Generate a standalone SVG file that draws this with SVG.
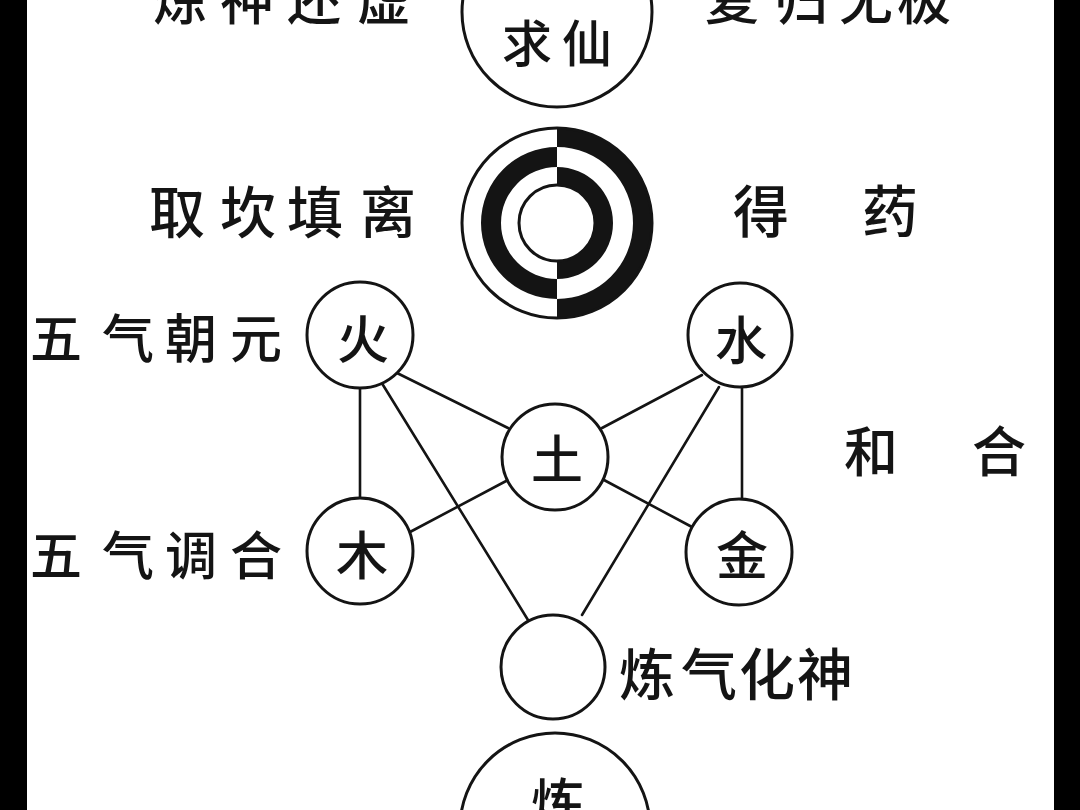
<svg xmlns="http://www.w3.org/2000/svg" width="1080" height="810" viewBox="0 0 1080 810">
<style>
  .t { font-family: "Noto Sans CJK SC", "Noto Sans CJK TC", sans-serif; font-weight: 500; fill: #141414; dominant-baseline: central; }
  .c { fill: #ffffff; stroke: #141414; stroke-width: 3; }
  .ln { stroke: #141414; stroke-width: 2.6; fill: none; stroke-linecap: round; }
  .blk { fill: #141414; }
</style>
<rect x="0" y="0" width="1080" height="810" fill="#ffffff"/>
<rect x="0" y="0" width="27" height="810" fill="#000000"/>
<rect x="1054" y="0" width="26" height="810" fill="#000000"/>

<g id="connectors">
  <line class="ln" x1="360" y1="387" x2="360" y2="499"/>
  <line class="ln" x1="397" y1="373" x2="508" y2="428"/>
  <line class="ln" x1="383" y1="385" x2="528" y2="620"/>
  <line class="ln" x1="410" y1="532" x2="508" y2="480"/>
  <line class="ln" x1="702" y1="375" x2="602" y2="428"/>
  <line class="ln" x1="719" y1="387" x2="582" y2="615"/>
  <line class="ln" x1="742" y1="387" x2="742" y2="500"/>
  <line class="ln" x1="604" y1="480" x2="692" y2="527"/>
</g>

<g id="label-top-left"><text class="t" font-size="54" x="153 220 287 357" y="-4">炼神还虚</text></g>
<g id="label-top-right"><text class="t" font-size="54" x="705 774 839 897" y="-4">复归无极</text></g>

<g id="node-top">
  <circle class="c" cx="557" cy="12" r="95"/>
  <text class="t" font-size="50" x="502 562" y="40">求仙</text>
</g>

<g id="label-qukan"><text class="t" font-size="56" x="149 220 287 360" y="208">取坎填离</text></g>
<g id="label-deyao"><text class="t" font-size="56" x="733 862" y="207">得药</text></g>

<g id="node-kanli">
  <circle cx="557" cy="223" r="95" fill="#ffffff"/>
  <path class="blk" d="M557 128 A95 95 0 0 1 557 318 L557 299 A76 76 0 0 0 557 147 Z"/>
  <path class="blk" d="M557 147 A76 76 0 0 0 557 299 L557 279 A56 56 0 0 1 557 167 Z"/>
  <path class="blk" d="M557 167 A56 56 0 0 1 557 279 L557 261 A38 38 0 0 0 557 185 Z"/>
  <circle cx="557" cy="223" r="95" fill="none" stroke="#141414" stroke-width="3"/>
  <circle cx="557" cy="223" r="38" fill="none" stroke="#141414" stroke-width="3"/>
</g>

<g id="label-wuqi-chaoyuan"><text class="t" font-size="52" x="30 102 165 230" y="335">五气朝元</text></g>
<g id="label-wuqi-tiaohe"><text class="t" font-size="52" x="30 102 165 230" y="552">五气调合</text></g>
<g id="label-hehe"><text class="t" font-size="54" x="844 972" y="448">和合</text></g>

<g id="node-huo">
  <circle class="c" cx="360" cy="335" r="53"/>
  <text class="t" font-size="52" x="363" y="336" text-anchor="middle">火</text>
</g>
<g id="node-shui">
  <circle class="c" cx="740" cy="335" r="52"/>
  <text class="t" font-size="52" x="741" y="337" text-anchor="middle">水</text>
</g>
<g id="node-tu">
  <circle class="c" cx="555" cy="457" r="53"/>
  <text class="t" font-size="52" x="557" y="456" text-anchor="middle">土</text>
</g>
<g id="node-mu">
  <circle class="c" cx="360" cy="551" r="53"/>
  <text class="t" font-size="52" x="362" y="552" text-anchor="middle">木</text>
</g>
<g id="node-jin">
  <circle class="c" cx="739" cy="552" r="53"/>
  <text class="t" font-size="52" x="742" y="552" text-anchor="middle">金</text>
</g>

<g id="node-empty">
  <circle class="c" cx="553" cy="667" r="52"/>
</g>
<g id="label-lianqi"><text class="t" font-size="56" x="619 681 739 797" y="670">炼气化神</text></g>

<g id="node-bottom">
  <circle class="c" cx="555" cy="828" r="95"/>
  <text class="t" font-size="54" x="558" y="800" text-anchor="middle">炼</text>
</g>
</svg>
